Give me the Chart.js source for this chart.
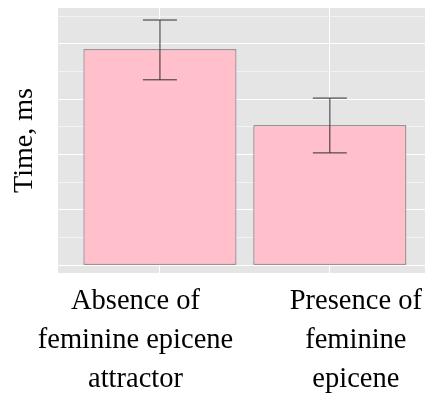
<!DOCTYPE html>
<html lang="en">
<head>
    <meta charset="UTF-8">
    <title>Time by attractor condition</title>
    <script src="https://cdn.jsdelivr.net/npm/chart.js"></script>
    <style>
        body {
            margin: 0;
            background: #fff;
        }
        canvas {
            display: block;
        }
    </style>
</head>
<body>
    <canvas id="timeChart" width="425" height="394"></canvas>

    <script>
        // bar positions on the x axis (one per condition)
        const categories = [1, 2];
        const xLabels = [
            ['Absence of', 'feminine epicene', 'attractor'],
            ['Presence of', 'feminine', 'epicene']
        ];
        // where the condition labels sit under the panel (x units)
        const labelPos = [0.856, 2.153];

        // mean time and error bar limits
        const meanTimes = [390, 253];
        const errLow = [335, 203];
        const errHigh = [443, 302];
        const capHalf = 0.1;

        // grid values: majors every 100, minors halfway
        const yTicks = [0, 50, 100, 150, 200, 250, 300, 350, 400, 450];

        const serif = '"Liberation Serif", "Times New Roman", serif';

        function errLine(points) {
            return {
                type: 'line',
                data: points,
                borderColor: '#2e2e2e',
                borderWidth: 1,
                pointRadius: 0,
                fill: false,
                order: 0
            };
        }

        const datasets = [{
            type: 'bar',
            data: categories.map((c, i) => ({ x: c, y: meanTimes[i] })),
            backgroundColor: '#ffc0cb',
            borderColor: '#5e5357',
            borderWidth: 1,
            borderSkipped: false,
            barPercentage: 0.9,
            categoryPercentage: 1,
            order: 1
        }];

        categories.forEach((c, i) => {
            datasets.push(errLine([{ x: c, y: errLow[i] }, { x: c, y: errHigh[i] }]));
            datasets.push(errLine([{ x: c - capHalf, y: errHigh[i] }, { x: c + capHalf, y: errHigh[i] }]));
            datasets.push(errLine([{ x: c - capHalf, y: errLow[i] }, { x: c + capHalf, y: errLow[i] }]));
        });

        // grey ggplot-like panel
        const panelBg = {
            id: 'panelBg',
            beforeDraw(chart) {
                const a = chart.chartArea;
                const ctx = chart.ctx;
                ctx.save();
                ctx.fillStyle = '#e5e5e5';
                ctx.fillRect(a.left, a.top, a.right - a.left, a.bottom - a.top);
                ctx.restore();
            }
        };

        new Chart(document.getElementById('timeChart'), {
            data: { datasets: datasets },
            plugins: [panelBg],
            options: {
                responsive: false,
                animation: false,
                devicePixelRatio: 1,
                layout: { padding: { top: 8, left: 0, right: 0, bottom: 0 } },
                plugins: {
                    legend: { display: false },
                    tooltip: { enabled: false }
                },
                scales: {
                    x: {
                        type: 'linear',
                        position: 'bottom',
                        offset: false,
                        min: 0.4,
                        max: 2.56,
                        afterBuildTicks: s => { s.ticks = categories.map(v => ({ value: v })); },
                        afterFit: s => { s.height = 0; s.paddingLeft = 0; s.paddingRight = 0; },
                        ticks: { display: false },
                        border: { display: false },
                        grid: { color: '#ffffff', lineWidth: 1, drawTicks: false, offset: false }
                    },
                    x2: {
                        type: 'linear',
                        position: 'bottom',
                        offset: false,
                        min: 0.4,
                        max: 2.56,
                        afterBuildTicks: s => { s.ticks = labelPos.map(v => ({ value: v })); },
                        afterFit: s => { s.height = 121; s.paddingLeft = 0; s.paddingRight = 0; },
                        border: { display: false },
                        grid: { display: false, drawTicks: false, offset: false },
                        ticks: {
                            autoSkip: false,
                            maxRotation: 0,
                            padding: 9,
                            color: '#000',
                            font: { family: serif, size: 28.5, lineHeight: 1.37 },
                            callback: (v, i) => xLabels[i]
                        }
                    },
                    y: {
                        min: -13.9,
                        max: 464.7,
                        afterBuildTicks: s => { s.ticks = yTicks.map(v => ({ value: v })); },
                        afterFit: s => { s.width = 58; s.paddingTop = 0; s.paddingBottom = 0; },
                        ticks: { display: false },
                        border: { display: false },
                        grid: {
                            drawTicks: false,
                            lineWidth: 1,
                            color: c => (c.tick && c.tick.value % 100 === 0) ? '#ffffff' : '#f2f2f2'
                        },
                        title: {
                            display: true,
                            text: 'Time, ms',
                            color: '#000',
                            padding: { top: 8, bottom: 0 },
                            font: { family: serif, size: 28, lineHeight: 1.2 }
                        }
                    }
                }
            }
        });
    </script>
</body>
</html>
